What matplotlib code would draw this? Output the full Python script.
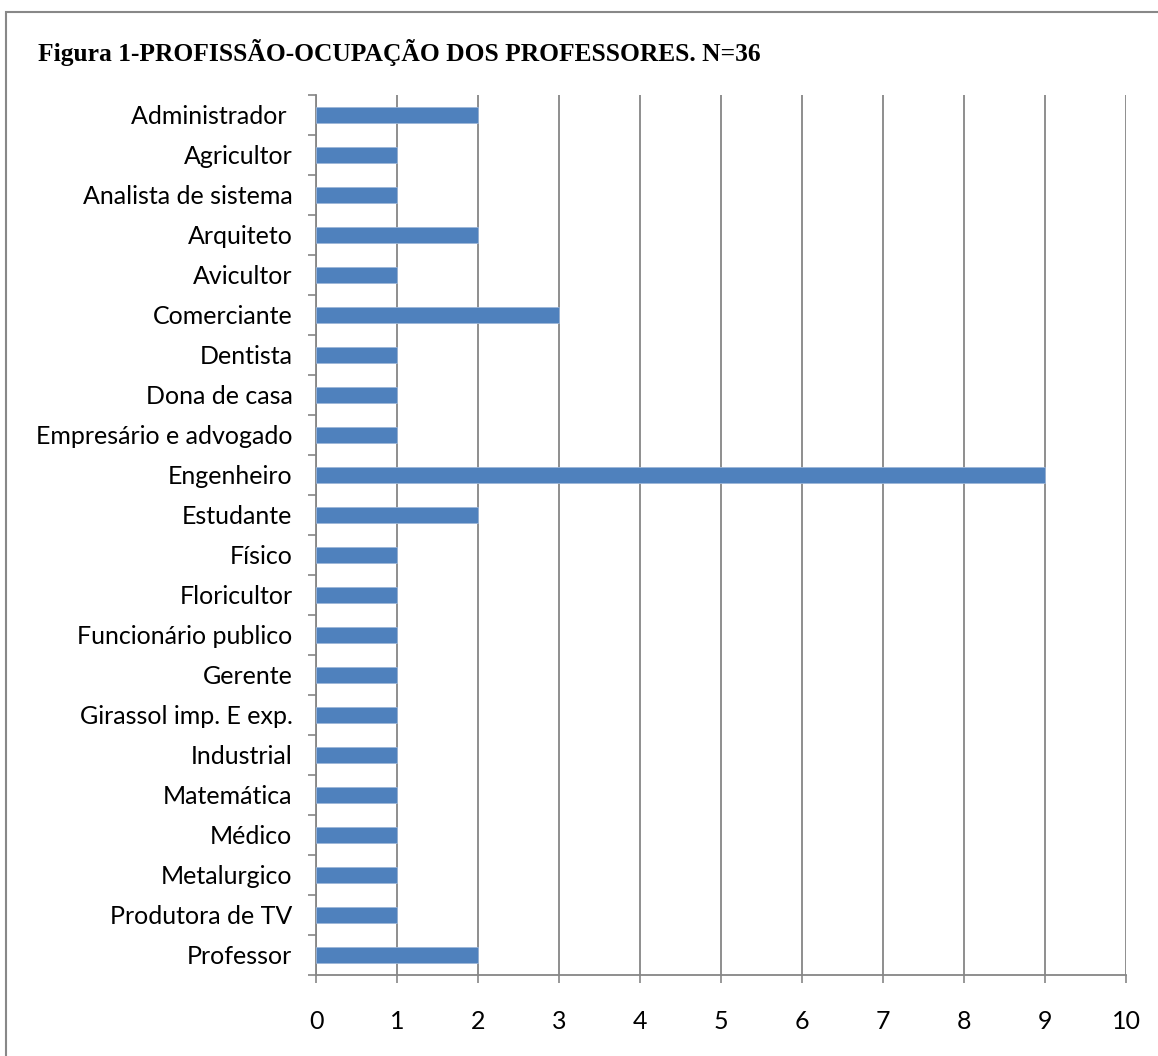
import matplotlib
matplotlib.use("Agg")
import matplotlib.pyplot as plt
from matplotlib.patches import Rectangle
import numpy as np

categories = ["Administrador ", "Agricultor", "Analista de sistema", "Arquiteto", "Avicultor",
              "Comerciante", "Dentista", "Dona de casa", "Empresário e advogado", "Engenheiro",
              "Estudante", "Físico", "Floricultor", "Funcionário publico", "Gerente",
              "Girassol imp. E exp.", "Industrial", "Matemática", "Médico", "Metalurgico",
              "Produtora de TV", "Professor"]
values = [2, 1, 1, 2, 1, 3, 1, 1, 1, 9, 2, 1, 1, 1, 1, 1, 1, 1, 1, 1, 1, 2]
xticks = list(range(0, 11))
title = "Figura 1-PROFISSÃO-OCUPAÇÃO DOS PROFESSORES. N=36"

W, H = 1158, 1056
fig = plt.figure(figsize=(W/100, H/100), dpi=100)
ax = fig.add_axes([316/W, 1-975/H, (1126-316)/W, (975-95)/H])

n = len(categories)
pos = np.arange(n)
ax.barh(pos, values, height=0.4, color="#4F81BD", edgecolor="#9DB6D8", linewidth=0.6, zorder=3)
ax.set_ylim(n-0.5, -0.5)
ax.set_xlim(0, 10)
ax.set_xticks(xticks)
ax.set_xticklabels([str(t) for t in xticks], fontsize=18, family="Lato")
ax.set_yticks(pos)
ax.set_yticklabels(categories, fontsize=18, family="Lato")
ax.set_yticks(np.arange(n+1)-0.5, minor=True)
ax.tick_params(axis="y", which="major", length=0, pad=17)
ax.tick_params(axis="y", which="minor", length=6, color="#868686", width=1.2, direction="out")
ax.tick_params(axis="x", which="major", length=6, color="#868686", width=1.2, direction="out", pad=19)
ax.grid(axis="x", color="#868686", linewidth=1.3, zorder=0)
for s in ["top", "right"]:
    ax.spines[s].set_visible(False)
for s in ["left", "bottom"]:
    ax.spines[s].set_color("#868686")
    ax.spines[s].set_linewidth(1.3)

fig.text(38/W, 1-52/H, title, fontsize=18.4, fontweight="bold", family="Liberation Serif",
         va="center", ha="left")
fig.patches.append(Rectangle((6/W, -0.1), 1.2, 1-12/H+0.1, transform=fig.transFigure,
                             fill=False, edgecolor="#888888", linewidth=1.5))
fig.savefig("out.png", dpi=100)
